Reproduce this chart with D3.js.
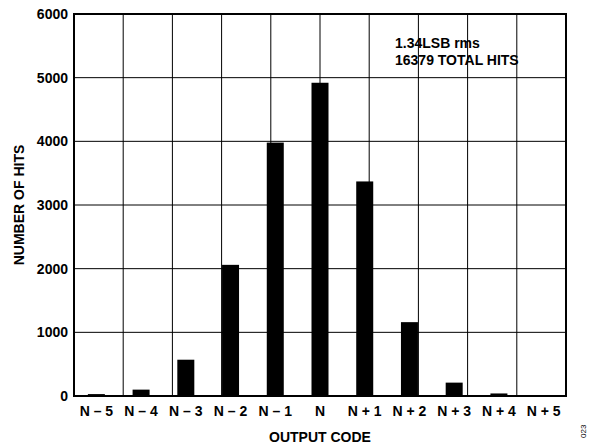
<!DOCTYPE html><html><head><script src="https://cdn.jsdelivr.net/npm/d3@7"></script>
<style>body{margin:0;background:#fff}text{font-family:Arial,"Liberation Sans",sans-serif;font-weight:bold;fill:#000}</style></head><body>
<script>
const categories=["N – 5","N – 4","N – 3","N – 2","N – 1","N","N + 1","N + 2","N + 3","N + 4","N + 5"];
const hits=[30,100,570,2060,3980,4920,3370,1160,210,40,10];
const yTicks=[0,1000,2000,3000,4000,5000,6000];
const W=596,H=448,L=74,R=566,T=14,B=396;
const svg=d3.select("body").append("svg").attr("width",W).attr("height",H);
const x=d3.scaleBand().domain(categories).range([L,R]);
const y=d3.scaleLinear().domain([0,6000]).range([B,T]);
const g=svg.append("g");
yTicks.forEach(t=>g.append("line").attr("x1",L).attr("x2",R).attr("y1",y(t)).attr("y2",y(t)).attr("stroke","#000").attr("stroke-width",1));
const xs=d3.scaleLinear().domain([0,10]).range([L,R]);
d3.range(1,10).forEach(i=>g.append("line").attr("x1",xs(i)).attr("x2",xs(i)).attr("y1",T).attr("y2",B).attr("stroke","#000").attr("stroke-width",1));
g.append("rect").attr("x",L).attr("y",T).attr("width",R-L).attr("height",B-T).attr("fill","none").attr("stroke","#000").attr("stroke-width",2);
g.selectAll(".bar").data(hits).join("rect").attr("x",(d,i)=>x(categories[i])+x.bandwidth()/2-8.5).attr("width",17)
 .attr("y",d=>y(d)).attr("height",d=>B-y(d)).attr("fill","#000");
g.selectAll(".yt").data(yTicks).join("text").attr("x",L-6).attr("y",d=>y(d)+5).attr("text-anchor","end").attr("font-size",14).text(d=>d);
g.selectAll(".xt").data(categories).join("text").attr("x",d=>x(d)+x.bandwidth()/2).attr("y",B+20).attr("text-anchor","middle").attr("font-size",14).text(d=>d);
svg.append("text").attr("x",(L+R)/2).attr("y",442).attr("text-anchor","middle").attr("font-size",14).text("OUTPUT CODE");
svg.append("text").attr("transform",`translate(24,${(T+B)/2}) rotate(-90)`).attr("text-anchor","middle").attr("font-size",14).text("NUMBER OF HITS");
svg.append("text").attr("x",395).attr("y",48).attr("font-size",14).text("1.34LSB rms");
svg.append("text").attr("x",395).attr("y",65).attr("font-size",14).text("16379 TOTAL HITS");
svg.append("text").attr("transform","translate(586,438) rotate(-90)").attr("font-size",8).style("font-weight","normal").text("023");
</script></body></html>
